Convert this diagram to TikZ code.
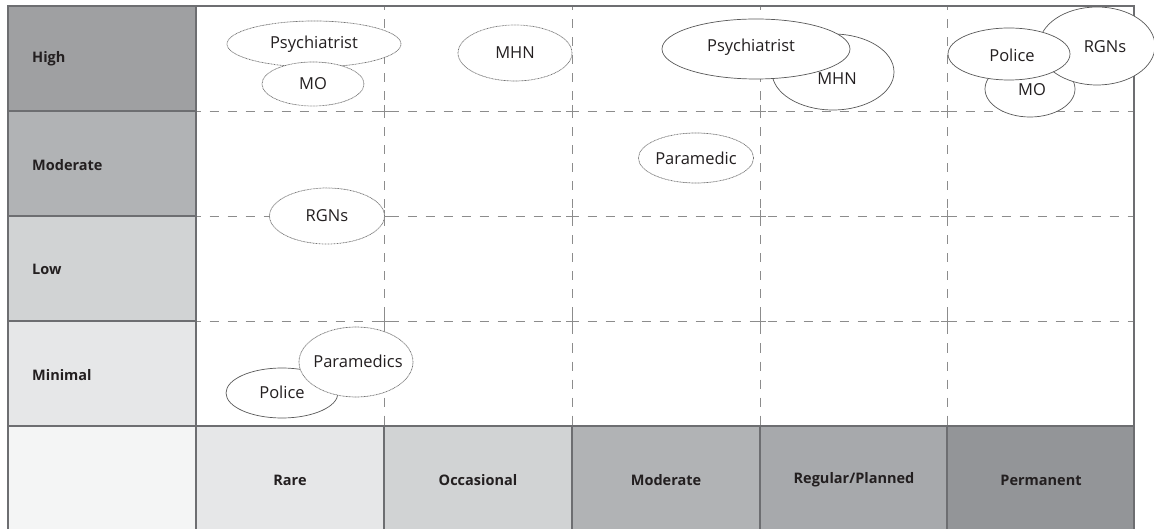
\documentclass[tikz,border=0pt]{standalone}
\usepackage{fontspec}
\setmainfont{Open Sans}
\usetikzlibrary{shapes.geometric}
\definecolor{frame}{HTML}{6D6E71}
\definecolor{cHigh}{HTML}{9FA0A2}
\definecolor{cMod}{HTML}{B1B3B5}
\definecolor{cLow}{HTML}{D1D3D4}
\definecolor{cMin}{HTML}{E6E7E8}
\definecolor{cCorner}{HTML}{F4F5F5}
\definecolor{cReg}{HTML}{A7A9AC}
\definecolor{cPerm}{HTML}{939598}
\definecolor{grid}{HTML}{8C8C8C}
\definecolor{ink}{HTML}{231F20}
\tikzset{
  cell/.style={draw=frame, line width=1.8pt},
  rowlabel/.style={anchor=west, font=\fontsize{14.5}{16}\selectfont\bfseries, text=ink, inner sep=0pt},
  collabel/.style={font=\fontsize{14.5}{16}\selectfont\bfseries, text=ink, inner sep=0pt},
  gridline/.style={draw=grid, line width=0.9pt, dash pattern=on 9pt off 9pt},
  tick/.style={draw=grid, line width=0.9pt},
  actor/.style={ellipse, fill=white, inner sep=0pt, font=\fontsize{16.5}{18}\selectfont, text=ink},
  weak/.style={actor, draw=black!55, line width=0.7pt, dash pattern=on 0.9pt off 0.6pt},
  strong/.style={actor, draw=black!65, line width=0.7pt},
  word/.style={font=\fontsize{16.5}{18}\selectfont, text=ink, inner sep=0pt},
}
\begin{document}
\begin{tikzpicture}[x=1pt,y=-1pt]
\useasboundingbox (0,0) rectangle (1154,529);
\fill[white] (0,0) rectangle (1154,529);

% row headers
\fill[cHigh] (8,6) rectangle (196,111);
\fill[cMod] (8,111) rectangle (196,216);
\fill[cLow] (8,216) rectangle (196,321);
\fill[cMin] (8,321) rectangle (196,426);
\fill[cCorner] (8,426) rectangle (196,531);
% column headers
\fill[cMin] (196,426) rectangle (384,531);
\fill[cLow] (384,426) rectangle (572,531);
\fill[cMod] (572,426) rectangle (760,531);
\fill[cReg] (760,426) rectangle (947,531);
\fill[cPerm] (947,426) rectangle (1134,531);

% dashed grid of the matrix
\foreach \x in {384,572,760,947} \draw[gridline, dash phase=4.5pt] (\x,6) -- (\x,426);
\foreach \y in {111,216,321} \draw[gridline, dash phase=4.5pt] (196,\y) -- (1134,\y);
\foreach \x in {384,572,760,947} \foreach \y in {111,216,321}
  \draw[tick] (\x-6,\y) -- (\x+6,\y) (\x,\y-6) -- (\x,\y+6);

% frame and solid cell borders
\draw[cell] (8,6) rectangle (1134,531);
\draw[cell] (196,6) -- (196,531);
\foreach \y in {111,216,321,426} \draw[cell] (8,\y) -- (196,\y);
\draw[cell] (196,426) -- (1134,426);
\foreach \x in {384,572,760,947} \draw[cell] (\x,426) -- (\x,531);

% labels
\node[rowlabel] (lHigh) at (32,59) {High};
\node[rowlabel] (lMod) at (32,165) {Moderate};
\node[rowlabel] (lLow) at (32,269) {Low};
\node[rowlabel] (lMin) at (32,375) {Minimal};
\node[collabel] (cRare) at (290,480) {Rare};
\node[collabel] (cOcc) at (478,480) {Occasional};
\node[collabel] (cModc) at (666,480) {Moderate};
\node[collabel] (cRegc) at (854,480) {Regular/Planned};
\node[collabel] (cPermc) at (1041,480) {Permanent};

% actors: rare contact
\node[weak, minimum width=174pt, minimum height=46pt] (psy1) at (314,44) {Psychiatrist};
\node[weak, minimum width=102pt, minimum height=44pt] (mo1) at (313,84) {MO};
\node[weak, minimum width=115pt, minimum height=56pt] (rgn1) at (327,216) {RGNs};
\node[strong, minimum width=112pt, minimum height=50pt] (pol1) at (282,393) {};
\node[word] (pol1t) at (282,392) {Police};
\node[weak, minimum width=114pt, minimum height=70pt] (par1) at (356,362) {};
\node[word] (par1t) at (358,361) {Paramedics};

% occasional / moderate contact
\node[weak, minimum width=114pt, minimum height=56pt] (mhn1) at (515,53) {MHN};
\node[weak, minimum width=114pt, minimum height=50pt] (par2) at (696,158) {Paramedic};

% regular contact
\node[strong, minimum width=122pt, minimum height=76pt] (mhn2) at (833,72) {};
\node[word] (mhn2t) at (837,79) {MHN};
\node[strong, minimum width=188pt, minimum height=60pt] (psy2) at (756,49) {};
\node[word] (psy2t) at (751,47) {Psychiatrist};

% permanent contact
\node[strong, minimum width=90pt, minimum height=56pt] (mo2) at (1030,89) {};
\node[word] (mo2t) at (1032,90) {MO};
\node[strong, minimum width=116pt, minimum height=78pt] (rgn2) at (1097,46) {};
\node[word] (rgn2t) at (1105,47) {RGNs};
\node[strong, minimum width=122pt, minimum height=52pt] (pol2) at (1009,54) {};
\node[word] (pol2t) at (1012,55) {Police};
\end{tikzpicture}
\end{document}
